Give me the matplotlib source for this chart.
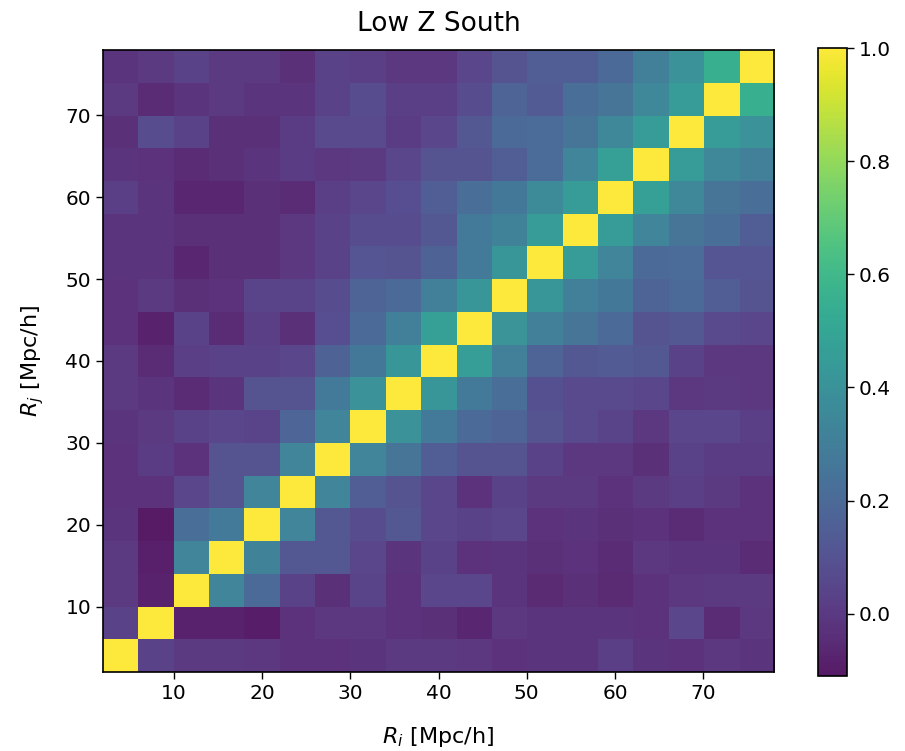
import numpy as np
import matplotlib
matplotlib.use("Agg")
import matplotlib.pyplot as plt

# Bin edges in Mpc/h (19 bins of width 4)
r_min = 2
r_max = 78

# Correlation matrix rows, R_j bin 0 (bottom) .. 18 (top); columns R_i bins 0..18
row_00 = [1.00, 0.03, 0.00, 0.00, -0.01, -0.03, -0.03, -0.02, 0.00, 0.00, -0.01, -0.03, -0.02, -0.02, 0.02, -0.02, -0.03, -0.01, -0.02]
row_01 = [0.03, 1.00, -0.08, -0.08, -0.10, -0.03, -0.01, -0.01, -0.03, -0.04, -0.07, -0.01, -0.02, -0.02, -0.02, -0.03, 0.05, -0.05, -0.01]
row_02 = [0.00, -0.08, 1.00, 0.33, 0.20, 0.03, -0.04, 0.04, -0.03, 0.05, 0.05, -0.02, -0.06, -0.04, -0.06, -0.03, -0.01, 0.00, 0.00]
row_03 = [0.00, -0.09, 0.33, 1.00, 0.32, 0.12, 0.12, 0.05, -0.02, 0.03, -0.03, -0.02, -0.04, -0.03, -0.05, -0.01, -0.02, -0.02, -0.05]
row_04 = [-0.02, -0.11, 0.22, 0.28, 1.00, 0.33, 0.12, 0.07, 0.12, 0.05, 0.03, 0.05, -0.03, -0.02, -0.04, -0.03, -0.05, -0.03, -0.03]
row_05 = [-0.03, -0.03, 0.05, 0.10, 0.33, 1.00, 0.33, 0.15, 0.10, 0.05, -0.03, 0.03, 0.00, 0.00, -0.03, 0.00, 0.02, 0.00, -0.03]
row_06 = [-0.03, 0.01, -0.03, 0.10, 0.10, 0.33, 1.00, 0.33, 0.25, 0.15, 0.10, 0.10, 0.03, -0.01, -0.01, -0.04, 0.03, 0.01, 0.01]
row_07 = [-0.02, 0.00, 0.03, 0.05, 0.04, 0.18, 0.33, 1.00, 0.40, 0.28, 0.20, 0.17, 0.10, 0.06, 0.04, -0.01, 0.05, 0.05, 0.02]
row_08 = [0.00, -0.02, -0.05, -0.02, 0.10, 0.10, 0.28, 0.40, 1.00, 0.42, 0.28, 0.22, 0.09, 0.06, 0.06, 0.05, -0.01, 0.00, -0.01]
row_09 = [0.00, -0.05, 0.02, 0.03, 0.03, 0.05, 0.16, 0.27, 0.42, 1.00, 0.46, 0.30, 0.17, 0.12, 0.13, 0.12, 0.03, -0.01, -0.01]
row_10 = [-0.03, -0.08, 0.03, -0.05, 0.02, -0.04, 0.08, 0.20, 0.30, 0.47, 1.00, 0.41, 0.30, 0.25, 0.20, 0.10, 0.12, 0.06, 0.05]
row_11 = [-0.03, 0.00, -0.04, -0.03, 0.04, 0.04, 0.07, 0.17, 0.20, 0.30, 0.42, 1.00, 0.42, 0.30, 0.27, 0.17, 0.20, 0.15, 0.10]
row_12 = [-0.02, -0.02, -0.07, -0.04, -0.04, -0.01, 0.03, 0.11, 0.10, 0.16, 0.28, 0.42, 1.00, 0.45, 0.33, 0.20, 0.21, 0.11, 0.11]
row_13 = [-0.02, -0.02, -0.04, -0.04, -0.04, -0.01, 0.03, 0.07, 0.07, 0.12, 0.28, 0.32, 0.45, 1.00, 0.45, 0.33, 0.25, 0.22, 0.15]
row_14 = [0.02, -0.02, -0.07, -0.07, -0.04, -0.05, 0.02, 0.05, 0.08, 0.15, 0.22, 0.27, 0.36, 0.45, 1.00, 0.47, 0.35, 0.25, 0.22]
row_15 = [-0.02, -0.03, -0.05, -0.04, -0.02, 0.01, -0.01, 0.00, 0.05, 0.10, 0.10, 0.15, 0.21, 0.33, 0.47, 1.00, 0.45, 0.35, 0.30]
row_16 = [-0.04, 0.07, 0.03, -0.04, -0.04, 0.01, 0.06, 0.06, 0.01, 0.05, 0.12, 0.20, 0.21, 0.25, 0.35, 0.45, 1.00, 0.45, 0.40]
row_17 = [0.00, -0.05, -0.02, 0.00, -0.02, -0.02, 0.03, 0.07, 0.02, 0.02, 0.07, 0.17, 0.13, 0.22, 0.25, 0.35, 0.45, 1.00, 0.55]
row_18 = [-0.02, 0.00, 0.03, 0.00, 0.00, -0.04, 0.03, 0.02, -0.01, -0.01, 0.05, 0.10, 0.14, 0.15, 0.20, 0.30, 0.40, 0.55, 1.00]

rows = [row_00, row_01, row_02, row_03, row_04, row_05, row_06, row_07, row_08, row_09,
        row_10, row_11, row_12, row_13, row_14, row_15, row_16, row_17, row_18]
corr = np.array(rows)

title = "Low Z South"
xlabel = r"$R_i$ [Mpc/h]"
ylabel = r"$R_j$ [Mpc/h]"

W, H = 905, 751
fig = plt.figure(figsize=(W / 100, H / 100), dpi=100)
ax = fig.add_axes([103 / W, (H - 672) / H, 671 / W, 622 / H])
cax = fig.add_axes([818 / W, (H - 676) / H, 29 / W, 628 / H])

im = ax.imshow(corr, origin="lower", extent=[r_min, r_max, r_min, r_max],
               aspect="auto", cmap="viridis", interpolation="nearest", alpha=0.9)
ax.set_title(title, fontsize=19, pad=14)
ax.set_xlabel(xlabel, fontsize=16, labelpad=16)
ax.set_ylabel(ylabel, fontsize=16, labelpad=14)
ax.tick_params(labelsize=14.5, length=5, width=1)
for s in ax.spines.values():
    s.set_linewidth(1.2)

cb = fig.colorbar(im, cax=cax)
cb.set_ticks([0.0, 0.2, 0.4, 0.6, 0.8, 1.0])
cb.ax.tick_params(labelsize=14.5, length=5, width=1)
cb.outline.set_linewidth(1.2)

fig.savefig("out.png", dpi=100)
